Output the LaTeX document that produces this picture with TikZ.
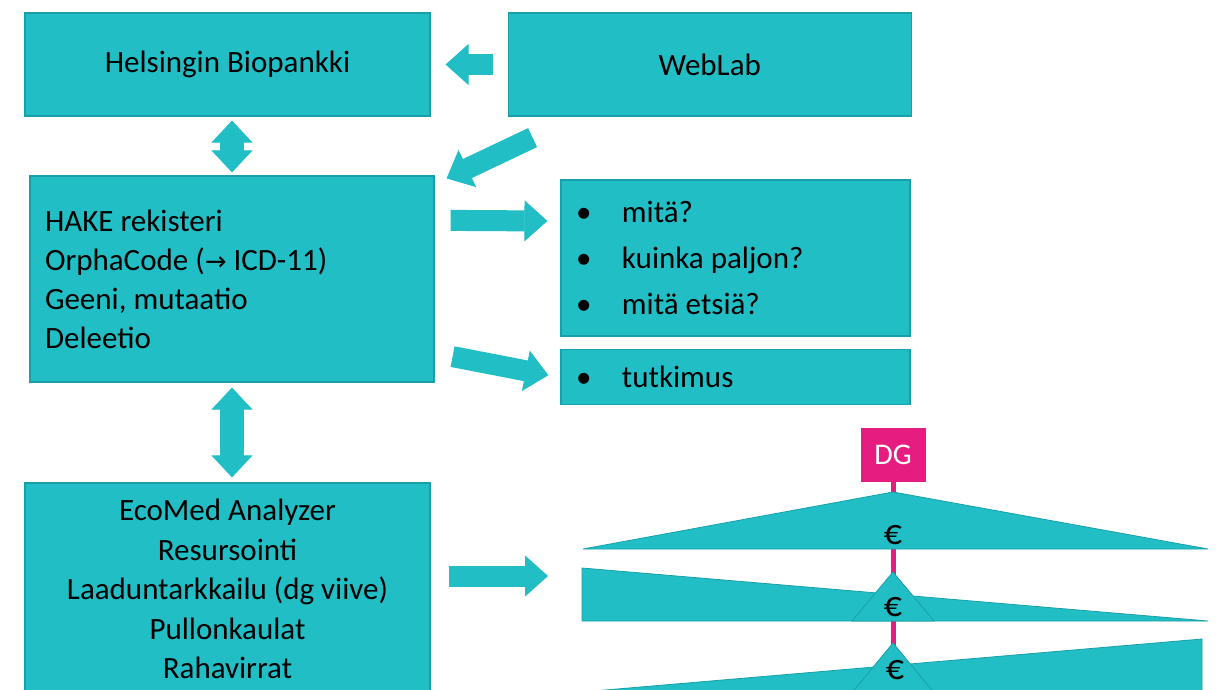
\documentclass[tikz,border=0pt]{standalone}
\usepackage{fontspec}
\setmainfont{Carlito}
\newfontfamily\symfont{DejaVu Sans}
\usetikzlibrary{arrows.meta, positioning, calc}
\definecolor{cTeal}{RGB}{33,190,198}
\definecolor{cTealEdge}{RGB}{24,160,170}
\definecolor{cMagenta}{RGB}{230,28,128}
\tikzset{
	box/.style      ={rectangle, draw=cTealEdge, line width=1.2pt, fill=cTeal, inner sep=0pt, text=black},
	listbox/.style  ={box, align=left, inner xsep=15pt, execute at begin node={\spaceskip=0pt\xspaceskip=0pt}},
	blockarrow/.style={draw=cTeal, line width=21pt, -{Triangle[length=23pt, width=41pt, line width=1pt]}},
	twoway/.style   ={draw=cTeal, line width=24pt, {Triangle[length=22pt, width=41pt, line width=1pt]}-{Triangle[length=22pt, width=41pt, line width=1pt]}},
	wedge/.style    ={fill=cTeal, draw=cTealEdge, line width=0.8pt},
	euro/.style     ={inner sep=0pt, font=\fontsize{36}{38}\selectfont},
}
\begin{document}
\begin{tikzpicture}[x=1pt, y=-1pt, font=\fontsize{31}{39}\selectfont]
			\useasboundingbox (0,0) rectangle (1224,690);
			\clip (0,0) rectangle (1224,690);
			\fill[white] (0,0) rectangle (1224,690);
			% boxes
			\node[box, minimum width=405pt, minimum height=103pt] (bio) at (227.5,64.5) {Helsingin Biopankki};
			\node[box, minimum width=403pt, minimum height=103pt, right=77pt of bio] (weblab) {WebLab};
			\node[listbox, text width=374pt, minimum height=206pt] (hake) at (232,279) {HAKE rekisteri\\ OrphaCode ({\symfont\fontsize{26}{30}\selectfont→} ICD-11)\\ Geeni, mutaatio\\ Deleetio};
			\node[listbox, text width=319pt, minimum height=156pt, font=\fontsize{31}{46}\selectfont] (bul1) at (735.5,258) {\makebox[46pt][l]{\textbullet}mitä?\\ \makebox[46pt][l]{\textbullet}kuinka paljon?\\ \makebox[46pt][l]{\textbullet}mitä etsiä?};
			\node[listbox, text width=319pt, minimum height=55pt, below=12pt of bul1] (bul2) {\makebox[46pt][l]{\textbullet}tutkimus};
			\node[box, align=center, minimum width=405pt, minimum height=212pt, font=\fontsize{31}{39.5}\selectfont] (eco) at (227.5,589) {EcoMed Analyzer\\ Resursointi\\ Laaduntarkkailu (dg viive)\\ Pullonkaulat\\ Rahavirrat};
			% flows between the boxes
			\draw[blockarrow] ($(weblab.west)+(-15,0)$) -- ($(bio.east)+(15,0)$);
			\draw[twoway] ($(bio.south -| hake.north)+(0,4)$) -- ($(hake.north)+(0,-3)$);
			\draw[blockarrow] ($(weblab.south west)+(25,21)$) -- ($(hake.north east)+(12,3)$);
			\draw[blockarrow] ($(hake.north east)+(16,45)$) -- ($(bul1.west)+(-13,-37)$);
			\draw[blockarrow] ($(hake.south east)+(18,-26)$) -- ($(bul2.west)+(-12,-1.5)$);
			\draw[twoway] ($(hake.south)+(0,5)$) -- ($(eco.north -| hake.south)+(0,-5)$);
			% money fans
			\node[fill=cMagenta, text=white, minimum width=65pt, minimum height=54pt, inner sep=0pt, font=\fontsize{30}{32}\selectfont] (dg) at (893,455) {DG};
			\coordinate (fan) at (582,576);
			\draw[blockarrow] ($(eco.east)+(18,-13)$) -- ($(fan)+(-34,0)$);
			\draw[cMagenta, line width=5pt] (dg.south) -- ++(0,260);
			\draw[wedge] (583,549) -- (893,492) -- (1208,549) -- cycle;
			\draw[wedge] (582,568) -- (1208,621) -- (582,621) -- cycle;
			\draw[wedge] (893,572) -- (934,621) -- (852,621) -- cycle;
			\draw[wedge] (582,692) -- (1202,639) -- (1202,700) -- (582,700) -- cycle;
			\draw[wedge] (893,643) -- (940,700) -- (846,700) -- cycle;
			\node[euro] (eurA) at (893,535) {€};
			\node[euro] (eurB) at (893,607) {€};
			\node[euro] (eurC) at (895,670) {€};
		\end{tikzpicture}
\end{document}
